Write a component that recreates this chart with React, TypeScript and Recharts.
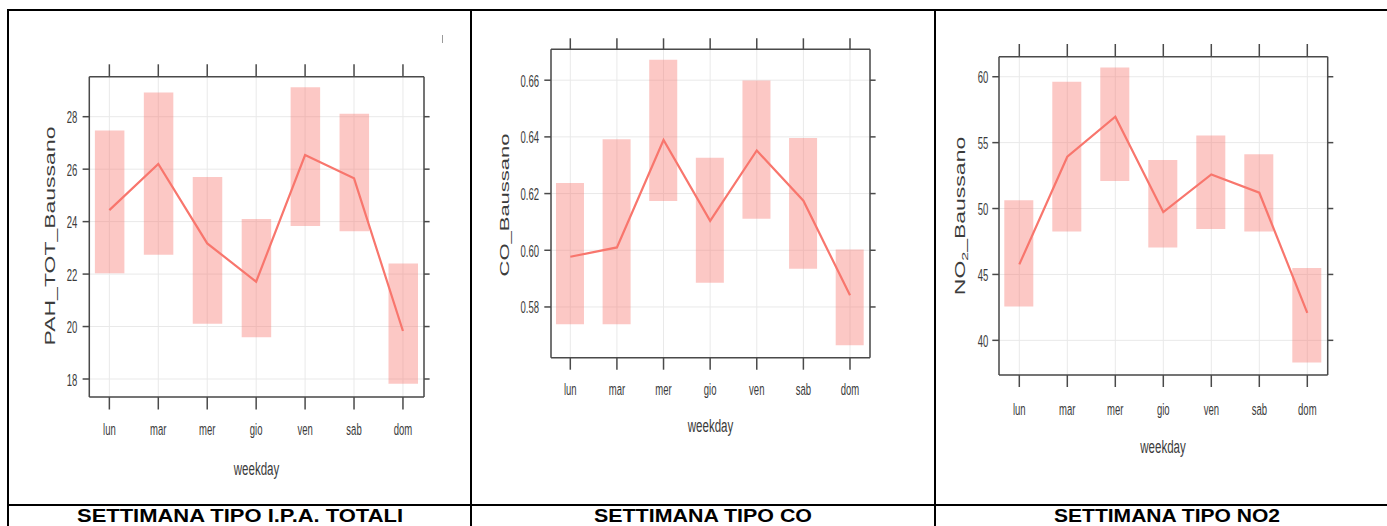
import React from 'react';
import { ComposedChart, XAxis, YAxis, CartesianGrid, Bar, Line } from 'recharts';

const DAYS = ['lun', 'mar', 'mer', 'gio', 'ven', 'sab', 'dom'];

const PAH_MEAN = [24.44, 26.2, 23.17, 21.71, 26.54, 25.65, 19.83];
const PAH_LOW = [22.03, 22.74, 20.11, 19.59, 23.83, 23.63, 17.82];
const PAH_HIGH = [27.47, 28.92, 25.7, 24.1, 29.12, 28.11, 22.4];
const PAH_TICKS = [18, 20, 22, 24, 26, 28];

const CO_MEAN = [0.5977, 0.601, 0.6389, 0.6104, 0.6352, 0.6175, 0.5841];
const CO_LOW = [0.5739, 0.5739, 0.6174, 0.5885, 0.6111, 0.5935, 0.5665];
const CO_HIGH = [0.6237, 0.6392, 0.6672, 0.6326, 0.6599, 0.6396, 0.6003];
const CO_TICKS = [0.58, 0.6, 0.62, 0.64, 0.66];

const NO2_MEAN = [45.76, 53.93, 56.97, 49.73, 52.59, 51.2, 42.09];
const NO2_LOW = [42.57, 48.26, 52.09, 47.05, 48.44, 48.26, 38.32];
const NO2_HIGH = [50.62, 59.62, 60.71, 53.68, 55.55, 54.11, 45.48];
const NO2_TICKS = [40, 45, 50, 55, 60];

const CAPTIONS = ['SETTIMANA TIPO I.P.A. TOTALI', 'SETTIMANA TIPO CO', 'SETTIMANA TIPO NO2'];

const X_TICKS = [1, 2, 3, 4, 5, 6, 7];

const build = (mean: number[], low: number[], high: number[]) =>
  DAYS.map((d, i) => ({ x: i + 1, day: d, mean: mean[i], range: [low[i], high[i]] }));

const FONT = '"Liberation Sans", Arial, sans-serif';
const TXT = '#3b3b3b';
const AXIS = '#4a4a4a';
const SX = 0.56;

type PanelCfg = {
  cl: number; cw: number; ct: number; ch: number;
  L: number; R: number; T: number; B: number;
  xDomain: [number, number]; yDomain: [number, number]; yTicks: number[];
  fmt: (v: number) => string;
  barSize: number; yTickRight: number; xTickBase: number;
  xTitle: { x: number; y: number }; yTitle: { x: number; y: number };
  yTitleSize: number; yLabel: React.ReactNode;
  topTick: number; botTick: number;
  data: any[];
};

function Panel({ c }: { c: PanelCfg }) {
  const Wl = 50, Wr = 10, Ht = 15, Hb = 60;
  const margin = {
    left: c.L - c.cl - Wl,
    right: c.cl + c.cw - c.R - Wr,
    top: c.T - c.ct - Ht,
    bottom: c.ct + c.ch - c.B - Hb,
  };
  const BottomTick = (p: any) => (
    <text
      transform={`translate(${p.x},${c.xTickBase - c.ct}) scale(${SX},1)`}
      textAnchor="middle" fontSize={17} fontFamily={FONT} fill={TXT}
    >
      {DAYS[p.payload.value - 1]}
    </text>
  );
  const LeftTick = (p: any) => (
    <text
      transform={`translate(${c.yTickRight - c.cl},${p.y + 6.5}) scale(${SX},1)`}
      textAnchor="end" fontSize={17} fontFamily={FONT} fill={TXT}
    >
      {c.fmt(p.payload.value)}
    </text>
  );
  const Empty = () => <g />;
  const XTitle = () => (
    <text
      transform={`translate(${c.xTitle.x - c.cl},${c.xTitle.y - c.ct}) scale(0.64,1)`}
      textAnchor="middle" fontSize={18} fontFamily={FONT} fill={TXT}
    >
      weekday
    </text>
  );
  const YTitle = () => (
    <text
      transform={`translate(${c.yTitle.x - c.cl},${c.yTitle.y - c.ct}) rotate(-90) scale(1,0.6)`}
      textAnchor="middle" fontSize={c.yTitleSize} fontFamily={FONT} fill={TXT}
    >
      {c.yLabel}
    </text>
  );
  return (
    <div style={{ position: 'absolute', left: c.cl, top: c.ct }}>
      <ComposedChart width={c.cw} height={c.ch} data={c.data} margin={margin}>
        <CartesianGrid xAxisId="b" yAxisId="l" stroke="#e9e9e9" strokeWidth={1} />
        <XAxis
          xAxisId="b" dataKey="x" type="number" orientation="bottom" height={Hb}
          domain={c.xDomain} allowDataOverflow ticks={X_TICKS} interval={0}
          tickSize={c.botTick} tickLine={{ stroke: AXIS, strokeWidth: 1.5 }}
          axisLine={{ stroke: AXIS, strokeWidth: 1.5 }} tick={BottomTick}
          label={{ content: XTitle }}
        />
        <XAxis
          xAxisId="t" dataKey="x" type="number" orientation="top" height={Ht}
          domain={c.xDomain} allowDataOverflow ticks={X_TICKS} interval={0}
          tickSize={c.topTick} tickLine={{ stroke: AXIS, strokeWidth: 1.5 }}
          axisLine={{ stroke: AXIS, strokeWidth: 1.5 }} tick={Empty}
        />
        <YAxis
          yAxisId="l" type="number" orientation="left" width={Wl}
          domain={c.yDomain} allowDataOverflow ticks={c.yTicks} interval={0}
          tickSize={6.7} tickLine={{ stroke: AXIS, strokeWidth: 1.5 }}
          axisLine={{ stroke: AXIS, strokeWidth: 1.5 }} tick={LeftTick}
          label={{ content: YTitle }}
        />
        <YAxis
          yAxisId="r" type="number" orientation="right" width={Wr}
          domain={c.yDomain} allowDataOverflow ticks={c.yTicks} interval={0}
          tickSize={5.6} tickLine={{ stroke: AXIS, strokeWidth: 1.5 }}
          axisLine={{ stroke: AXIS, strokeWidth: 1.5 }} tick={Empty}
        />
        <Bar
          xAxisId="b" yAxisId="l" dataKey="range" barSize={c.barSize}
          fill="#F8766D" fillOpacity={0.4} isAnimationActive={false}
        />
        <Line
          xAxisId="b" yAxisId="l" dataKey="mean" type="linear" stroke="#F8766D"
          strokeWidth={2.2} dot={false} activeDot={false} isAnimationActive={false}
        />
        <Line
          xAxisId="t" yAxisId="r" dataKey="mean" stroke="none" dot={false}
          activeDot={false} isAnimationActive={false}
        />
      </ComposedChart>
    </div>
  );
}

const PANELS: PanelCfg[] = [
  {
    cl: 10, cw: 458, ct: 12, ch: 488,
    L: 89.3, R: 424, T: 76.7, B: 397,
    xDomain: [0.59, 7.43], yDomain: [17.314, 29.525], yTicks: PAH_TICKS,
    fmt: (v) => String(v),
    barSize: 29.5, yTickRight: 77.3, xTickBase: 435,
    xTitle: { x: 256.5, y: 475 }, yTitle: { x: 55, y: 236 },
    yTitleSize: 23, yLabel: 'PAH_TOT_Baussano',
    topTick: 12.4, botTick: 12.5,
    data: build(PAH_MEAN, PAH_LOW, PAH_HIGH),
  },
  {
    cl: 473, cw: 458, ct: 12, ch: 488,
    L: 551, R: 870, T: 49.3, B: 357.7,
    xDomain: [0.586, 7.429], yDomain: [0.5621, 0.6709], yTicks: CO_TICKS,
    fmt: (v) => v.toFixed(2),
    barSize: 28, yTickRight: 539, xTickBase: 395,
    xTitle: { x: 710.5, y: 432 }, yTitle: { x: 509, y: 205 },
    yTitleSize: 22, yLabel: 'CO_Baussano',
    topTick: 11, botTick: 12,
    data: build(CO_MEAN, CO_LOW, CO_HIGH),
  },
  {
    cl: 937, cw: 450, ct: 12, ch: 488,
    L: 999, R: 1327.7, T: 56.7, B: 375,
    xDomain: [0.577, 7.425], yDomain: [37.37, 61.52], yTicks: NO2_TICKS,
    fmt: (v) => String(v),
    barSize: 29, yTickRight: 988.3, xTickBase: 415,
    xTitle: { x: 1163, y: 453 }, yTitle: { x: 965, y: 216 },
    yTitleSize: 23,
    yLabel: (
      <>
        <tspan>NO</tspan>
        <tspan fontSize={16} dy={5}>2</tspan>
        <tspan dy={-5}>_Baussano</tspan>
      </>
    ),
    topTick: 12.7, botTick: 12,
    data: build(NO2_MEAN, NO2_LOW, NO2_HIGH),
  },
];

const CAP_X = [240, 703, 1167];
const CAP_W = [326, 218, 226];

export default function App() {
  const line = (s: React.CSSProperties) => (
    <div style={{ position: 'absolute', background: '#000', ...s }} />
  );
  return (
    <div style={{ position: 'absolute', left: 0, top: 0, width: 1387, height: 526, overflow: 'hidden', background: '#fff' }}>
      {PANELS.map((c, i) => <Panel key={i} c={c} />)}
      {line({ left: 7, top: 9, width: 1400, height: 2 })}
      {line({ left: 7, top: 9, width: 2, height: 530 })}
      {line({ left: 470, top: 9, width: 2, height: 530 })}
      {line({ left: 933.5, top: 9, width: 2, height: 530 })}
      {line({ left: 7, top: 503.5, width: 1400, height: 2 })}
      <div style={{ position: 'absolute', left: 442, top: 35, width: 1, height: 8, background: '#9a9a9a' }} />
      <svg width={1387} height={526} style={{ position: 'absolute', left: 0, top: 0 }}>
        {CAPTIONS.map((t, i) => (
          <text
            key={i} x={CAP_X[i] - CAP_W[i] / 2} y={521.6} fontFamily={FONT} fontWeight="bold"
            fontSize={19} textLength={CAP_W[i]} lengthAdjust="spacingAndGlyphs" fill="#000"
          >
            {t}
          </text>
        ))}
      </svg>
    </div>
  );
}
